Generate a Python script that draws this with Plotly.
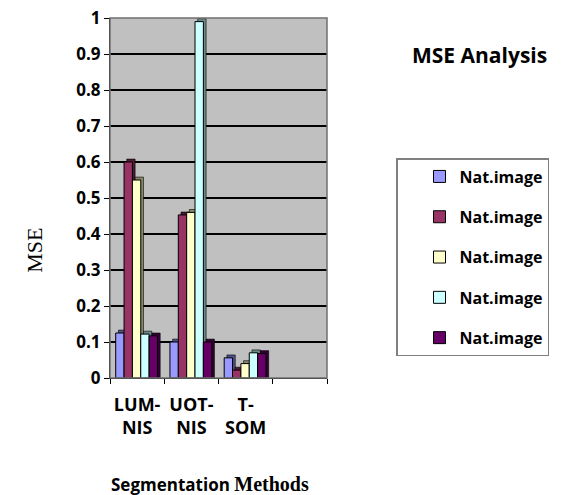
import plotly.graph_objects as go

categories = ["LUM-<br>NIS", "UOT-<br>NIS", "T-<br>SOM", " "]
series_names = ["Nat.image", "Nat.image", "Nat.image", "Nat.image", "Nat.image"]
series_values = [
    [0.125, 0.10, 0.056, None],
    [0.60, 0.453, 0.022, None],
    [0.55, 0.46, 0.04, None],
    [0.122, 0.99, 0.07, None],
    [0.117, 0.10, 0.068, None],
]
front_colors = ["#9999FF", "#993366", "#FFFFCC", "#CCFFFF", "#660066"]
side_colors = ["#50508A", "#4E1A34", "#8A8A6A", "#6A8A8A", "#330033"]
y_ticks = [0, 0.1, 0.2, 0.3, 0.4, 0.5, 0.6, 0.7, 0.8, 0.9, 1]
y_ticktext = ["0", "0.1", "0.2", "0.3", "0.4", "0.5", "0.6", "0.7", "0.8", "0.9", "1"]

BAR_W = 0.154
START = -0.5 + 0.105
DX = 0.05
DY = 0.008

fig = go.Figure()

# side / depth faces (drawn first)
for j, vals in enumerate(series_values):
    fig.add_trace(go.Bar(
        x=categories,
        y=[None if v is None else v + DY for v in vals],
        offset=START + j * BAR_W + DX,
        width=BAR_W,
        marker=dict(color=side_colors[j], line=dict(color="black", width=0.6)),
        showlegend=False,
        hoverinfo="skip",
    ))

# front faces
for j, vals in enumerate(series_values):
    fig.add_trace(go.Bar(
        x=categories,
        y=vals,
        name=series_names[j],
        legendgroup="g%d" % j,
        offset=START + j * BAR_W,
        width=BAR_W,
        marker=dict(color=front_colors[j], line=dict(color="black", width=1)),
    ))

FONT = "Open Sans"

fig.update_layout(
    width=576,
    height=495,
    margin=dict(l=110, r=249, t=18, b=117, autoexpand=False),
    paper_bgcolor="white",
    plot_bgcolor="#C0C0C0",
    barmode="overlay",
    font=dict(family=FONT, color="black"),
    showlegend=True,
    legend=dict(
        x=1.318, y=0.611, xanchor="left", yanchor="top",
        bordercolor="#808080", borderwidth=1.5, bgcolor="white",
        font=dict(family=FONT, size=16, color="black", weight="bold"),
        traceorder="grouped", tracegroupgap=16.5,
        entrywidth=166, entrywidthmode="pixels",
        indentation=22,
    ),
    xaxis=dict(
        categoryorder="array", categoryarray=categories,
        range=[-0.5, 3.5], automargin=False,
        showline=True, linecolor="black", linewidth=1,
        ticks="outside", tickson="boundaries", ticklen=5, tickcolor="black",
        tickfont=dict(family=FONT, size=18, weight="bold"),
        tickangle=0, ticklabelstandoff=10,
        showgrid=False, fixedrange=True,
    ),
    yaxis=dict(
        range=[0, 1.0], tickvals=y_ticks, ticktext=y_ticktext, automargin=False,
        showline=True, linecolor="black", linewidth=1,
        ticks="outside", ticklen=5, tickcolor="black",
        tickfont=dict(family=FONT, size=17, weight="bold"),
        showgrid=True, gridcolor="black", gridwidth=1.6,
        zeroline=False,
    ),
    shapes=[
        dict(type="rect", xref="paper", yref="paper", x0=0, x1=1, y0=0, y1=1,
             line=dict(color="#707070", width=1.5), layer="above"),
    ],
    annotations=[
        dict(text="<b>MSE Analysis</b>", xref="paper", yref="paper",
             x=1.705, y=0.897, xanchor="center", yanchor="middle", showarrow=False,
             font=dict(family=FONT, size=21, color="black")),
        dict(text="MSE", xref="paper", yref="paper", x=-0.346, y=0.356,
             xanchor="center", yanchor="middle",
             showarrow=False, textangle=-90,
             font=dict(family="Liberation Serif", size=22, color="black")),
        dict(text="<b>Segmentation <span style='font-family:Liberation Serif;font-size:20px'>Methods</span></b>",
             xref="paper", yref="paper", x=0.461, y=-0.297,
             xanchor="center", yanchor="middle", showarrow=False,
             font=dict(family=FONT, size=17, color="black")),
    ],
)

fig.write_html(
    "out.html",
    config={"displayModeBar": False},
    post_script="document.body.style.margin='0';document.body.style.overflow='hidden';",
)
